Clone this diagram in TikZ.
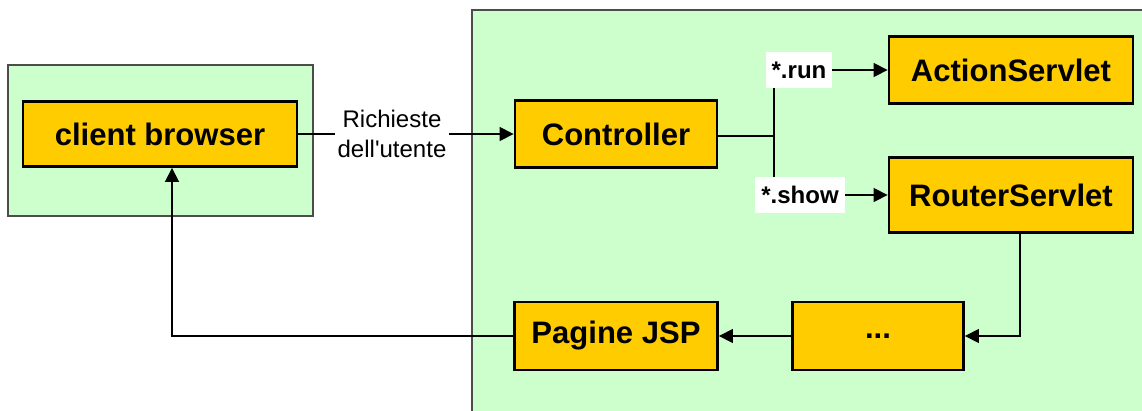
\documentclass[tikz,border=0pt]{standalone}
\usepackage{fontspec}
\setmainfont{Liberation Sans}
\usetikzlibrary{arrows.meta}
\definecolor{zonegreen}{HTML}{CCFFCC}
\definecolor{unityellow}{HTML}{FFCC00}

\begin{document}
\begin{tikzpicture}[x=0.03cm, y=-0.03cm,
        zone/.style={draw=black!70, fill=zonegreen, line width=1pt},
        unit/.style={draw, fill=unityellow, line width=2.4pt, inner sep=0pt,
                font=\fontsize{26.5}{30}\selectfont\bfseries},
        tag/.style={fill=white, inner sep=0pt, minimum height=1.08cm,
                font=\fontsize{20.5}{24}\selectfont\bfseries},
        flow/.style={-{Triangle[length=12pt,width=12pt]}, line width=1.2pt}]
        \useasboundingbox (0,0) rectangle (1142,410);
        % green areas
        \draw[zone] (8,65) rectangle (313,216);
        \draw[zone] (472,10) rectangle (1160,430);
        % boxes
        \node (client) [unit, minimum width=8.22cm, minimum height=1.95cm] at (160,134) {client browser};
        \node (ctrl) [unit, minimum width=6.06cm, minimum height=2.01cm] at (616,134) {Controller};
        \node (action) [unit, minimum width=7.32cm, minimum height=2.0cm] at (1011,70) {ActionServlet};
        \node (router) [unit, minimum width=7.32cm, minimum height=2.25cm] at (1011,195) {RouterServlet};
        \node (dots) [unit, minimum width=5.13cm, minimum height=2.04cm] at (878,336) {...};
        \node (jsp) [unit, minimum width=6.09cm, minimum height=2.04cm] at (616,336) {Pagine JSP};
        % labels
        \node (req) [inner sep=2pt, align=center, font=\fontsize{20.5}{26}\selectfont] at (392,134) {Richieste\\dell\textquotesingle utente};
        \node (run) [tag, minimum width=1.98cm] at (799,70) {*.run};
        \node (show) [tag, minimum width=2.7cm] at (800,195) {*.show};
        \coordinate (fork) at (774,136);
        % connectors
        \draw[line width=1.2pt] (client.east) -- (req.west);
        \draw[flow] (req.east) -- (ctrl.west);
        \draw[line width=1.2pt] (ctrl.east |- fork) -- (fork);
        \draw[line width=1.2pt] (run.south -| fork) -- (show.north -| fork);
        \draw[flow] (run) -- (action);
        \draw[flow] (show) -- (router);
        \draw[flow] ([xshift=0.27cm]router.south) |- (dots.east);
        \draw[flow] (dots) -- (jsp);
        \draw[flow] (jsp.west) -| ([xshift=0.36cm]client.south);
\end{tikzpicture}
\end{document}
